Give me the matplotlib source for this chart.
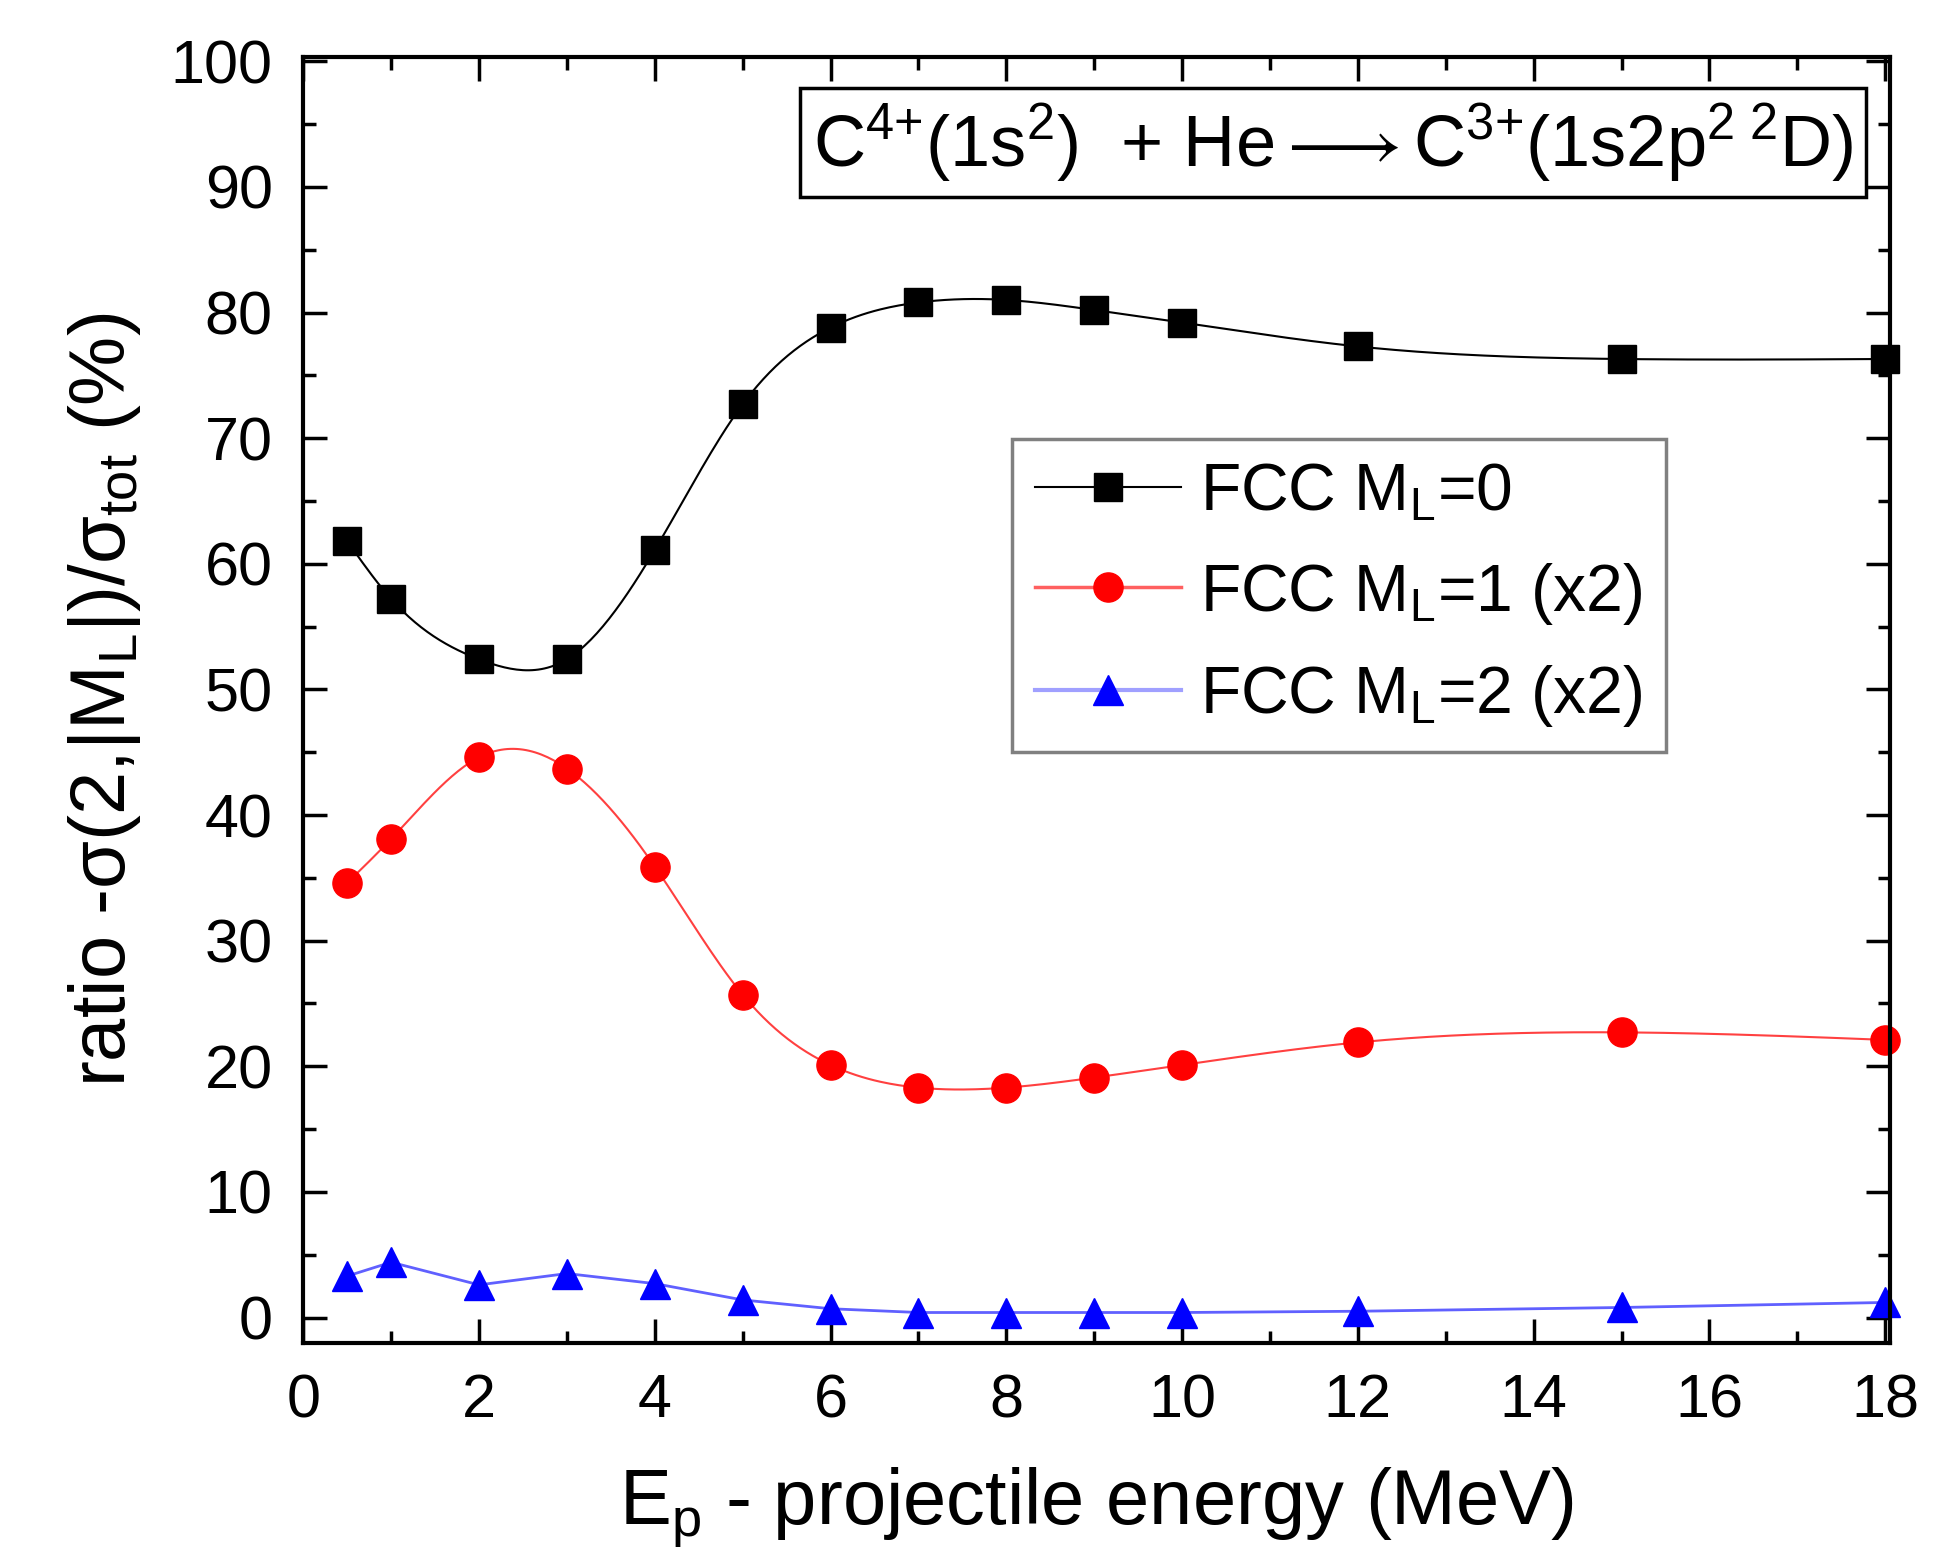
import numpy as np
import matplotlib
matplotlib.use("Agg")
import matplotlib.pyplot as plt
from matplotlib.ticker import MultipleLocator

plt.rcParams["font.family"] = ["Liberation Sans", "DejaVu Sans"]
plt.rcParams["mathtext.fontset"] = "custom"
plt.rcParams["mathtext.rm"] = "Liberation Sans"
plt.rcParams["mathtext.it"] = "Liberation Sans:italic"

# data
energy = [0.5, 1, 2, 3, 4, 5, 6, 7, 8, 9, 10, 12, 15, 18]
ml0 = [61.8, 57.2, 52.4, 52.4, 61.1, 72.7, 78.8, 80.8, 81.0, 80.2, 79.2, 77.3, 76.3, 76.3]
ml1 = [34.6, 38.1, 44.6, 43.7, 35.9, 25.7, 20.1, 18.3, 18.3, 19.1, 20.1, 21.9, 22.7, 22.1]
ml2 = [3.3, 4.4, 2.6, 3.5, 2.7, 1.4, 0.7, 0.4, 0.4, 0.4, 0.4, 0.5, 0.8, 1.2]


def spline(x, y, num=500):
    # natural cubic spline, only used to draw the connecting curve
    x = np.asarray(x, float)
    y = np.asarray(y, float)
    n = len(x)
    h = np.diff(x)
    A = np.zeros((n, n))
    b = np.zeros(n)
    A[0, 0] = A[-1, -1] = 1
    for i in range(1, n - 1):
        A[i, i - 1] = h[i - 1]
        A[i, i] = 2 * (h[i - 1] + h[i])
        A[i, i + 1] = h[i]
        b[i] = 6 * ((y[i + 1] - y[i]) / h[i] - (y[i] - y[i - 1]) / h[i - 1])
    M = np.linalg.solve(A, b)
    xs = np.linspace(x[0], x[-1], num)
    k = np.clip(np.searchsorted(x, xs) - 1, 0, n - 2)
    hh = x[k + 1] - x[k]
    t0 = x[k + 1] - xs
    t1 = xs - x[k]
    ys = (M[k] * t0 ** 3 + M[k + 1] * t1 ** 3) / (6 * hh) \
        + (y[k] / hh - M[k] * hh / 6) * t0 + (y[k + 1] / hh - M[k + 1] * hh / 6) * t1
    return xs, ys


fig = plt.figure(figsize=(19.44, 15.54), dpi=100)
ax = fig.add_axes([0.156, 0.136, 0.816, 0.827])

sx, sy = spline(energy, ml0)
ax.plot(sx, sy, color="black", lw=1.5)
ax.plot(energy, ml0, ls="none", marker="s", ms=20, color="black", clip_on=False)

sx, sy = spline(energy, ml1)
ax.plot(sx, sy, color="#ff4040", lw=1.5)
ax.plot(energy, ml1, ls="none", marker="o", ms=21, color="red", clip_on=False)

ax.plot(energy, ml2, color="#6060ff", lw=2)
ax.plot(energy, ml2, ls="none", marker="^", ms=21, color="blue", clip_on=False)

# legend proxies
h0, = ax.plot([], [], color="black", lw=1.5, marker="s", ms=20)
h1, = ax.plot([], [], color="#ff6060", lw=2.5, marker="o", ms=21, mfc="red", mec="red")
h2, = ax.plot([], [], color="#a0a0ff", lw=3, marker="^", ms=21, mfc="blue", mec="blue")
leg = ax.legend([h0, h1, h2],
                [r"FCC M$_\mathrm{L}$=0", r"FCC M$_\mathrm{L}$=1 (x2)", r"FCC M$_\mathrm{L}$=2 (x2)"],
                loc="upper left", bbox_to_anchor=(0.447, 0.703), fontsize=47.5,
                frameon=True, fancybox=False, edgecolor="#808080", framealpha=1,
                handlelength=2.2, handletextpad=0.3, labelspacing=0.55,
                borderpad=0.35, borderaxespad=0)
leg.get_frame().set_linewidth(2.5)

ax.text(0.649, 0.934,
        r"C$^{4{+}}$(1s$^2$)  + He$\longrightarrow$C$^{3{+}}$(1s2p$^{2\ 2}$D)",
        transform=ax.transAxes, ha="center", va="center", fontsize=52,
        bbox=dict(boxstyle="square,pad=0.18", fc="white", ec="black", lw=2.5))

ax.set_xlim(0, 18.05)
ax.set_ylim(-2, 100.3)
ax.xaxis.set_major_locator(MultipleLocator(2))
ax.xaxis.set_minor_locator(MultipleLocator(1))
ax.yaxis.set_major_locator(MultipleLocator(10))
ax.yaxis.set_minor_locator(MultipleLocator(5))
ax.tick_params(which="both", direction="in", top=True, right=True, width=2.5)
ax.tick_params(which="major", length=17, labelsize=44, pad=22)
ax.tick_params(which="minor", length=9)
for s in ax.spines.values():
    s.set_linewidth(3)

ax.set_xlabel(r"E$_\mathrm{p}$ - projectile energy (MeV)", fontsize=56, labelpad=26)
ax.set_ylabel(r"ratio -σ(2,|M$_\mathrm{L}$|)/σ$_\mathrm{tot}$ (%)", fontsize=56, labelpad=20)

fig.savefig("out.png", dpi=100)
